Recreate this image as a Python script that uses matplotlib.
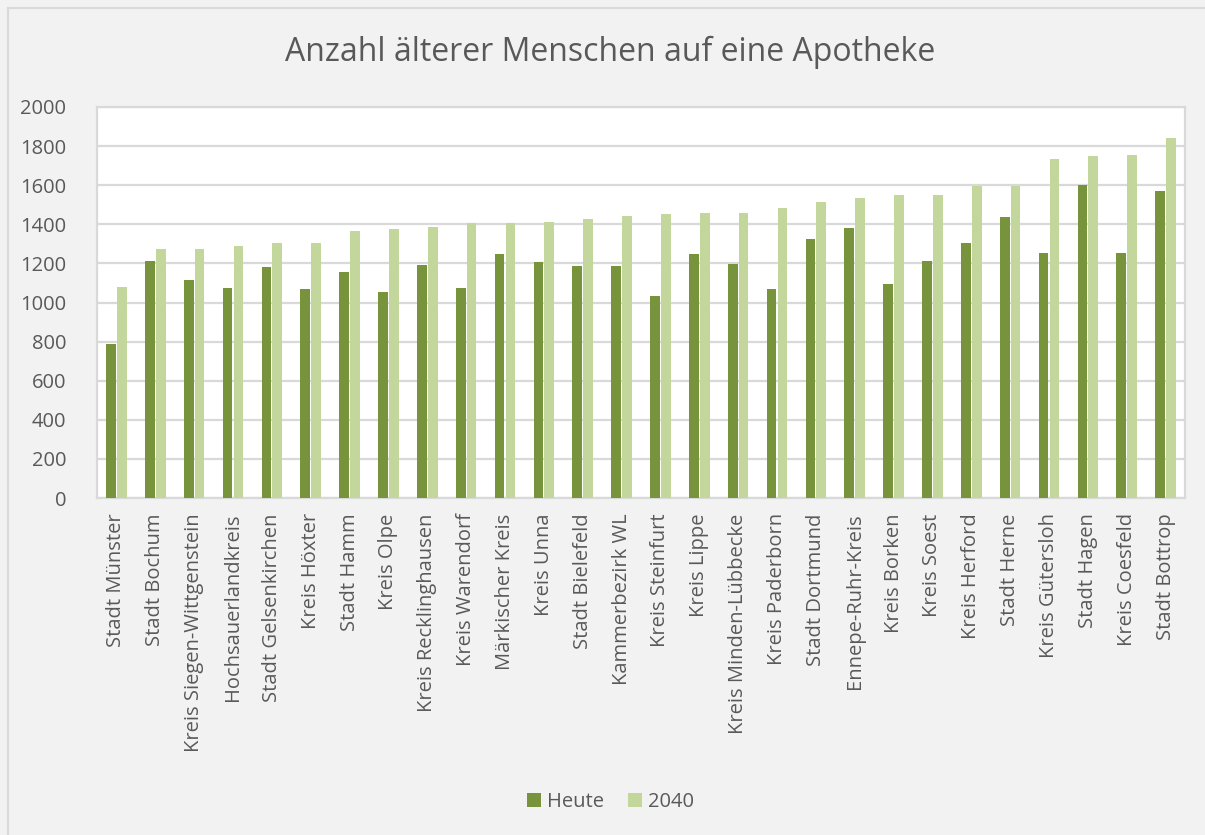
import matplotlib
matplotlib.use("Agg")
import matplotlib.pyplot as plt
import numpy as np
from matplotlib.patches import Rectangle

categories = ["Stadt Münster", "Stadt Bochum", "Kreis Siegen-Wittgenstein", "Hochsauerlandkreis",
              "Stadt Gelsenkirchen", "Kreis Höxter", "Stadt Hamm", "Kreis Olpe",
              "Kreis Recklinghausen", "Kreis Warendorf", "Märkischer Kreis", "Kreis Unna",
              "Stadt Bielefeld", "Kammerbezirk WL", "Kreis Steinfurt", "Kreis Lippe",
              "Kreis Minden-Lübbecke", "Kreis Paderborn", "Stadt Dortmund", "Ennepe-Ruhr-Kreis",
              "Kreis Borken", "Kreis Soest", "Kreis Herford", "Stadt Herne",
              "Kreis Gütersloh", "Stadt Hagen", "Kreis Coesfeld", "Stadt Bottrop"]
heute = [790, 1214, 1114, 1074, 1183, 1068, 1157, 1053, 1193, 1074,
         1246, 1209, 1188, 1185, 1034, 1246, 1197, 1070, 1323, 1381,
         1097, 1212, 1304, 1436, 1253, 1602, 1251, 1569]
y2040 = [1080, 1272, 1272, 1287, 1303, 1306, 1366, 1376, 1385, 1405,
         1409, 1414, 1427, 1443, 1451, 1456, 1460, 1482, 1516, 1537,
         1550, 1552, 1598, 1598, 1735, 1747, 1754, 1843]
yticks = [0, 200, 400, 600, 800, 1000, 1200, 1400, 1600, 1800, 2000]

plt.rcParams['font.family'] = ['Open Sans', 'DejaVu Sans']
txt = '#595959'
W, H = 1205, 835
fig = plt.figure(figsize=(W/100, H/100), dpi=100, facecolor='#f2f2f2')
ax = fig.add_axes([97/W, 1 - 498/H, (1185-97)/W, (498-107)/H])
ax.set_facecolor('white')

x = np.arange(len(categories))
bw = 0.25
ax.bar(x - 0.14, heute, bw, color='#77933c', label='Heute', zorder=3)
ax.bar(x + 0.14, y2040, bw, color='#c3d69b', label='2040', zorder=3)

ax.set_xlim(-0.5, len(categories) - 0.5)
ax.set_ylim(0, 2000)
ax.set_yticks(yticks)
ax.set_yticklabels([str(v) for v in yticks])
ax.set_xticks(x)
ax.set_xticklabels(categories, rotation=90)
ax.tick_params(axis='both', length=0, labelsize=14.5, colors=txt)
ax.tick_params(axis='x', pad=11)
ax.tick_params(axis='y', pad=22)
ax.grid(axis='y', color='#d9d9d9', linewidth=1.6, zorder=0)
for s in ax.spines.values():
    s.set_color('#d9d9d9')
    s.set_linewidth(1.6)

fig.text(0.5 + 8/W, 1 - 52/H, "Anzahl älterer Menschen auf eine Apotheke", ha='center', va='center',
         fontsize=23, color=txt)

leg = fig.legend(loc='center', bbox_to_anchor=(0.5 + 8/W, 1 - 802/H), ncol=2, frameon=False,
                 fontsize=14.5, handlelength=0.7, handleheight=0.7, columnspacing=1.2,
                 handletextpad=0.3)
for t in leg.get_texts():
    t.set_color(txt)

fig.patches.append(Rectangle((8/W, -0.1), 1.2, 1 - 8/H + 0.1, transform=fig.transFigure,
                             fill=False, edgecolor='#d9d9d9', linewidth=1.5))

fig.savefig('out.png', dpi=100, facecolor=fig.get_facecolor())
